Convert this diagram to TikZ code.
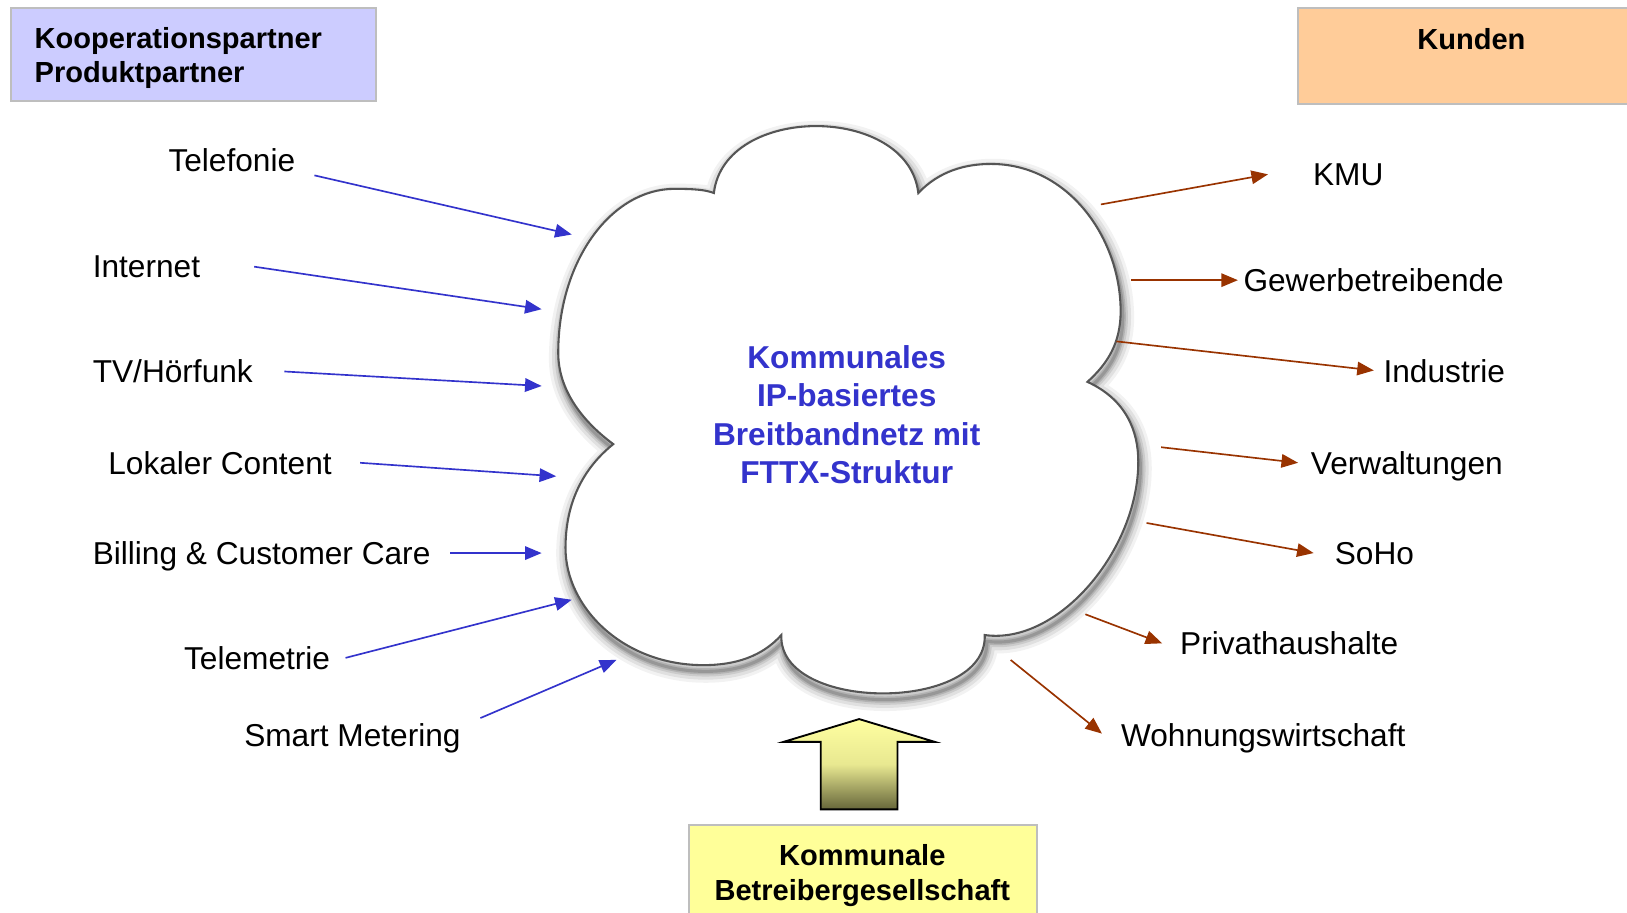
\documentclass[tikz,border=0pt]{standalone}
\usepackage{fontspec}
\setmainfont{Liberation Sans}
\usetikzlibrary{arrows.meta}
\definecolor{bluearr}{HTML}{3333CC}
\definecolor{brownarr}{HTML}{993300}
\definecolor{koopfill}{HTML}{CCCCFF}
\definecolor{kundfill}{HTML}{FFCC99}
\definecolor{betrfill}{HTML}{FFFF99}
\definecolor{boxborder}{HTML}{BEBEBE}
\definecolor{cloudline}{HTML}{555555}
\definecolor{arrtop}{HTML}{FFFFA0}
\definecolor{arrbot}{HTML}{66663A}
\newcommand\cloudshape{(688,186) .. controls (698,100) and (875,100) .. (885,186)
 .. controls (905,165) and (930,158) .. (955,158)
 .. controls (1030,158) and (1080,230) .. (1080,300)
 .. controls (1080,330) and (1068,350) .. (1048,368)
 .. controls (1085,385) and (1097,415) .. (1097,445)
 .. controls (1097,530) and (1020,622) .. (949,612)
 .. controls (952,687) and (750,687) .. (753,612)
 .. controls (735,632) and (710,641) .. (678,641)
 .. controls (600,641) and (545,585) .. (545,528)
 .. controls (545,475) and (570,445) .. (591,428)
 .. controls (560,405) and (538,375) .. (538,340)
 .. controls (538,250) and (590,182) .. (650,182)
 .. controls (670,182) and (680,183) .. (688,186) -- cycle}
\begin{document}
\begin{tikzpicture}[x=0.5pt,y=-0.5pt,
  lbl/.style={anchor=base west, inner sep=0pt, font=\fontsize{15.25}{18}\selectfont},
  hdr/.style={inner sep=0pt, font=\bfseries\fontsize{14}{16.5}\selectfont},
  boxline/.style={draw=boxborder, line width=1pt},
  barr/.style={draw=bluearr, line width=0.8pt, -{Triangle[length=8pt,width=6.5pt]}},
  rarr/.style={draw=brownarr, line width=0.8pt, -{Triangle[length=8pt,width=6.5pt]}}]
\useasboundingbox (0,0) rectangle (1568,879);
\fill[white] (0,0) rectangle (1568,879);
% header boxes
\draw[boxline, fill=koopfill] (11,8) rectangle (362,97);
\node[hdr, anchor=west, align=left] (koop) at (33,56) {Kooperationspartner\\Produktpartner};
\draw[boxline, fill=kundfill] (1251,8) rectangle (1575,100);
\node[hdr] (kunden) at (1418,38) {Kunden};
\draw[boxline, fill=betrfill] (664,795) rectangle (999,885);
\node[hdr, align=center, font=\bfseries\fontsize{14}{17}\selectfont] (betr) at (831,844) {Kommunale\\Betreibergesellschaft};
% cloud shadow
\begin{scope}[shift={(2,6)}]
\foreach \w/\o in {11/0.05,8/0.07,5/0.09,3/0.12,1.5/0.15}
  \draw[black, opacity=\o, line width=\w pt, line join=round] \cloudshape;
\end{scope}
\fill[white] \cloudshape;
\draw[cloudline, line width=1pt, fill=white] \cloudshape;
\node[inner sep=0pt, align=center, text=bluearr, font=\bfseries\fontsize{15.25}{18.5}\selectfont] (netz) at (816,399.5)
  {Kommunales\\IP-basiertes\\Breitbandnetz mit\\FTTX-Struktur};
% up arrow
\draw[black, line width=0.9pt, top color=arrtop, bottom color=arrbot, middle color=arrtop!85!arrbot]
  (828,693) -- (901,715) -- (865,715) -- (865,780) -- (791,780) -- (791,715) -- (755,715) -- cycle;
\coordinate (uparrow) at (828,735);
% left labels
\node[lbl] (tel) at (162,165) {Telefonie};
\node[lbl] (int) at (89,267) {Internet};
\node[lbl] (tv) at (89,369) {TV/Hörfunk};
\node[lbl] (lok) at (104,457) {Lokaler Content};
\node[lbl] (bil) at (89,544) {Billing \& Customer Care};
\node[lbl] (tme) at (177,645) {Telemetrie};
\node[lbl] (sme) at (235,719) {Smart Metering};
% right labels
\node[lbl] (kmu) at (1265,179) {KMU};
\node[lbl] (gew) at (1198,281) {Gewerbetreibende};
\node[lbl] (ind) at (1333,369) {Industrie};
\node[lbl] (ver) at (1263,457) {Verwaltungen};
\node[lbl] (soh) at (1286,544) {SoHo};
\node[lbl] (pri) at (1137,631) {Privathaushalte};
\node[lbl] (woh) at (1080,719) {Wohnungswirtschaft};
% arrow end points
\coordinate (tel-s) at (303,169); \coordinate (tel-e) at (551,226);
\coordinate (int-s) at (245,257); \coordinate (int-e) at (522,298);
\coordinate (tv-s) at (274,358);  \coordinate (tv-e) at (522,372);
\coordinate (lok-s) at (347,446); \coordinate (lok-e) at (536,459);
\coordinate (bil-s) at (434,533); \coordinate (bil-e) at (522,533);
\coordinate (tme-s) at (333,634); \coordinate (tme-e) at (551,578);
\coordinate (sme-s) at (463,692); \coordinate (sme-e) at (594,636);
\coordinate (kmu-s) at (1061,197); \coordinate (kmu-e) at (1222,168);
\coordinate (gew-s) at (1090,270); \coordinate (gew-e) at (1193,270);
\coordinate (ind-s) at (1076,329); \coordinate (ind-e) at (1324,357);
\coordinate (ver-s) at (1119,431); \coordinate (ver-e) at (1251,446);
\coordinate (soh-s) at (1105,504); \coordinate (soh-e) at (1266,533);
\coordinate (pri-s) at (1046,592); \coordinate (pri-e) at (1120,620);
\coordinate (woh-s) at (974,636);  \coordinate (woh-e) at (1062,707);
\foreach \n in {tel,int,tv,lok,bil,tme,sme}
  \draw[barr] (\n-s) -- (\n-e);
\foreach \n in {kmu,gew,ind,ver,soh,pri,woh}
  \draw[rarr] (\n-s) -- (\n-e);
\end{tikzpicture}
\end{document}
